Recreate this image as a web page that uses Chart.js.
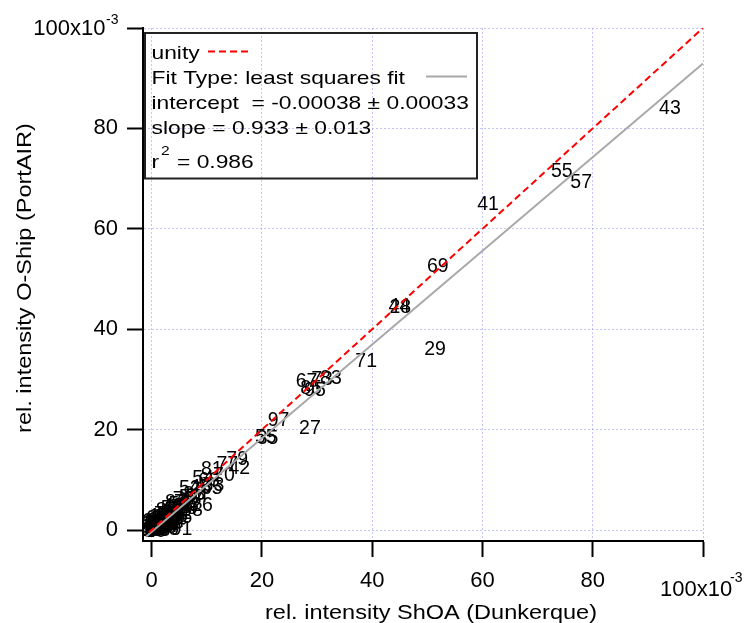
<!DOCTYPE html>
<html><head><meta charset="utf-8">
<script src="https://cdn.jsdelivr.net/npm/chart.js@4.4.0/dist/chart.umd.min.js"></script>
<style>html,body{margin:0;padding:0;background:#fff}#wrap{width:750px;height:623px}</style>
</head><body><div id="wrap"><canvas id="c" width="750" height="623"></canvas></div>
<script>
// values in units of 10^-3 (relative intensity)
const pointLabels = ['43','55','57','41','69','44','28','29','71','67','73','83','95','85','97','27','55','35',
  '79','42','81','70','77','68','54','33','65','45','52','50','58','26','91','88','94','93',
  '12','13','14','15','16','17','18','19','20','24','25','30','31','32','34','36','37','38','39','40',
  '46','47','49','51','53','56','59','60','61','62','63','64','66','72','74','75','76','78','80','82',
  '84','86','87','89','90','92','96','98','99','100',
  '21','22','23','48','10','11','60','86','39','16'];
const shoaValues = [94.0,74.4,77.9,61.0,51.9,44.9,45.1,51.4,38.9,28.1,30.9,32.5,29.6,28.9,23.0,28.7,20.7,21.0,
  15.5,15.9,10.9,13.1,13.7,10.4,9.3,11.2,10.9,8.8,6.9,6.9,7.3,9.1,5.4,7.7,8.2,6.6,
  0.2,0.3,0.5,0.8,0.4,1.0,1.2,0.7,1.5,1.8,2.0,1.1,2.3,0.9,2.6,2.2,3.0,2.8,3.4,1.6,
  3.8,3.2,4.0,4.3,5.0,4.6,3.6,2.5,5.2,4.8,3.0,1.9,5.6,6.0,4.1,5.8,2.4,6.3,0.6,1.3,
  2.8,5.4,4.4,2.7,1.0,3.6,0.1,1.4,0.0,2.0,
  0.3,1.7,2.9,3.9,0.0,1.4,1.2,2.1,3.3,0.6];
const oshipValues = [84.1,71.5,69.3,65.1,52.6,44.7,44.4,36.1,33.7,29.7,30.1,30.3,27.9,28.4,21.9,20.3,18.6,18.4,
  14.3,12.4,12.3,11.0,13.3,10.0,10.4,9.0,8.4,8.6,8.4,6.6,4.0,5.1,0.2,7.2,6.8,5.0,
  0.3,0.1,0.6,0.4,0.9,0.8,1.1,0.2,1.3,1.0,1.6,0.5,1.9,1.4,1.5,2.4,2.2,2.8,3.0,0.7,
  2.5,3.6,3.4,4.0,5.3,2.9,4.4,0.6,3.5,4.6,1.2,2.7,4.9,5.6,1.8,6.2,3.3,4.4,1.7,2.0,
  0.9,2.6,5.6,4.0,2.5,1.6,1.2,0.0,0.6,0.3,
  1.8,2.2,3.3,4.8,0.0,2.8,0.1,0.8,1.9,-0.2];
const unityX = [-0.5, 100];
const unityY = [-0.5, 100];
const fitX = [-1, 100];
const fitY = [-1.31, 92.92];
const xTickValues = [0, 20, 40, 60, 80, 100];
const yTickValues = [0, 20, 40, 60, 80, 100];
const legendLines = ['unity', 'Fit Type: least squares fit', 'intercept  = -0.00038 \u00B1 0.00033', 'slope = 0.933 \u00B1 0.013', '= 0.986'];
const xTitle = 'rel. intensity ShOA (Dunkerque)';
const yTitle = 'rel. intensity O-Ship (PortAIR)';

const FONT = '"Liberation Sans", Arial, sans-serif';

function stretchText(ctx, txt, x, y, size, sx, align) {
  ctx.save();
  ctx.font = size + 'px ' + FONT;
  ctx.translate(x, y);
  ctx.scale(sx, 1);
  ctx.textAlign = align || 'left';
  ctx.textBaseline = 'alphabetic';
  ctx.fillText(txt, 0, 0);
  ctx.restore();
}

const marksPlugin = {
  id: 'marks',
  beforeDatasetsDraw(chart) {
    const meta = chart.getDatasetMeta(2);
    const ctx = chart.ctx;
    const a = chart.chartArea;
    ctx.save();
    ctx.beginPath();
    ctx.rect(a.left, a.top, a.right - a.left, a.bottom - a.top);
    ctx.clip();
    ctx.font = '19.5px ' + FONT;
    ctx.fillStyle = '#000';
    ctx.textAlign = 'center';
    ctx.textBaseline = 'middle';
    meta.data.forEach((el, i) => ctx.fillText(pointLabels[i], el.x, el.y + 1));
    ctx.restore();
  },
  afterDraw(chart) {
    const ctx = chart.ctx;
    const xs = chart.scales.x, ys = chart.scales.y;
    ctx.save();
    ctx.fillStyle = '#000';
    // exponent tick labels
    const px100 = xs.getPixelForValue(100);
    stretchText(ctx, '100x10', px100 - 43, 596, 22, 1, 'left');
    stretchText(ctx, '-3', px100 + 27, 582, 14, 1, 'left');
    const py100 = ys.getPixelForValue(100);
    stretchText(ctx, '100x10', 105.5, py100 + 7, 22, 1, 'right');
    stretchText(ctx, '-3', 106, py100 - 4, 14, 1, 'left');
    // axis titles
    stretchText(ctx, xTitle, 431, 619, 21, 1.12, 'center');
    ctx.save();
    ctx.translate(31, 278);
    ctx.rotate(-Math.PI / 2);
    stretchText(ctx, yTitle, 0, 0, 21, 1.12, 'center');
    ctx.restore();
    // legend box
    ctx.strokeStyle = '#222';
    ctx.lineWidth = 2;
    ctx.strokeRect(145, 33, 332, 145.5);
    const x0 = 151.5;
    const bl = [58.5, 84, 108.5, 134];
    for (let i = 0; i < 4; i++) stretchText(ctx, legendLines[i], x0, bl[i], 19, 1.2, 'left');
    stretchText(ctx, 'r', x0, 168, 19, 1.2, 'left');
    stretchText(ctx, '2', 161, 155, 13, 1.2, 'left');
    stretchText(ctx, legendLines[4], 177, 168, 19, 1.2, 'left');
    ctx.lineWidth = 2;
    ctx.strokeStyle = '#ff0000';
    ctx.setLineDash([7, 4]);
    ctx.beginPath(); ctx.moveTo(208, 51.5); ctx.lineTo(252, 51.5); ctx.stroke();
    ctx.setLineDash([]);
    ctx.strokeStyle = '#a8a8a8';
    ctx.beginPath(); ctx.moveTo(426, 76.5); ctx.lineTo(467, 76.5); ctx.stroke();
    ctx.restore();
  }
};

const gridCommon = {
  color: 'rgba(150,150,245,0.55)',
  lineWidth: 1,
  tickColor: '#000',
  tickLength: 16,
  tickWidth: 2,
  tickBorderDash: []
};
const borderCommon = { display: true, color: '#000', width: 2, dash: [2, 2] };

new Chart(document.getElementById('c'), {
  type: 'scatter',
  data: {
    datasets: [
      { label: 'unity', data: unityX.map((x, i) => ({x, y: unityY[i]})), showLine: true,
        borderColor: '#ff0000', borderWidth: 2, borderDash: [7, 4], pointRadius: 0, fill: false },
      { label: 'fit', data: fitX.map((x, i) => ({x, y: fitY[i]})), showLine: true,
        borderColor: '#a8a8a8', borderWidth: 2, pointRadius: 0, fill: false },
      { label: 'points', data: shoaValues.map((x, i) => ({x, y: oshipValues[i]})),
        pointRadius: 0, showLine: false }
    ]
  },
  options: {
    responsive: false,
    animation: false,
    devicePixelRatio: 1,
    layout: { padding: { left: 0, right: 47, top: 28, bottom: 0 } },
    plugins: { legend: { display: false }, tooltip: { enabled: false } },
    scales: {
      x: {
        type: 'linear', min: -1.58, max: 100,
        afterBuildTicks: s => { s.ticks = xTickValues.map(v => ({value: v})); },
        afterFit: s => { s.height = 82; },
        grid: gridCommon, border: borderCommon,
        ticks: { padding: 11, color: '#000', font: { family: FONT, size: 22 },
          callback: v => (v === 100 ? '' : String(v)) },
        title: { display: false }
      },
      y: {
        type: 'linear', min: -2.19, max: 100,
        afterBuildTicks: s => { s.ticks = yTickValues.map(v => ({value: v})); },
        afterFit: s => { s.width = 143; },
        grid: gridCommon, border: borderCommon,
        ticks: { padding: 9, color: '#000', font: { family: FONT, size: 22 },
          callback: v => (v === 100 ? '' : String(v)) },
        title: { display: false }
      }
    }
  },
  plugins: [marksPlugin]
});
</script></body></html>
